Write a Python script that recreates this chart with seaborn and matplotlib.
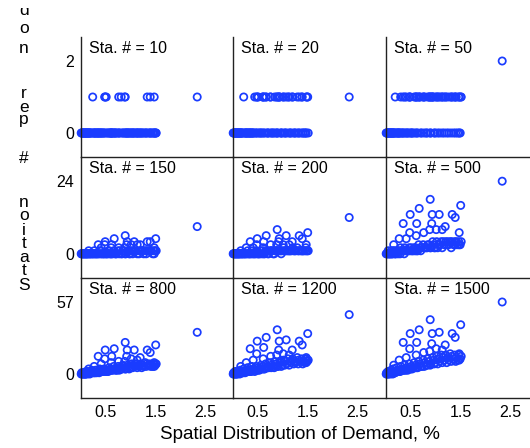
import matplotlib
matplotlib.use("Agg")
import matplotlib.pyplot as plt
import pandas as pd
import seaborn as sns
from matplotlib.transforms import Bbox

# ---------------- data ----------------
stations = [10, 20, 50, 150, 200, 500, 800, 1200, 1500]
row_max = [2, 24, 57]
x_ticks = [0.5, 1.5, 2.5]
x_tick_labels = ["0.5", "1.5", "2.5"]
x_label = "Spatial Distribution of Demand, %"
y_label = "Station # per node"

# nodes forming the dense band
band_x = [0.01, 0.02, 0.04, 0.05, 0.07, 0.09, 0.11, 0.12, 0.15, 0.17,
          0.19, 0.22, 0.24, 0.27, 0.30, 0.33, 0.35, 0.38, 0.42, 0.44,
          0.47, 0.51, 0.53, 0.57, 0.60, 0.62, 0.66, 0.69, 0.72, 0.75,
          0.78, 0.81, 0.84, 0.87, 0.90, 0.94, 0.96, 0.99, 1.02, 1.05,
          1.08, 1.11, 1.15, 1.17, 1.20, 1.24, 1.26, 1.29, 1.32, 1.36,
          1.38, 1.41, 1.44, 1.46, 1.49, 1.51]
band_y_10 = [0, 0, 0, 0, 0, 0, 0, 0, 0, 0, 0, 0, 1, 0, 0, 0, 0, 0, 0, 0,
             0, 1, 0, 0, 0, 0, 0, 0, 0, 0, 0, 1, 0, 0, 0, 0, 0, 0, 0, 0,
             0, 0, 0, 0, 0, 0, 0, 0, 0, 0, 0, 0, 0, 0, 0, 0]
band_y_20 = [0, 0, 0, 0, 0, 0, 0, 0, 0, 0, 0, 1, 0, 0, 0, 0, 0, 0, 0, 1,
             0, 1, 0, 0, 1, 0, 1, 0, 0, 1, 0, 0, 1, 0, 0, 1, 0, 0, 1, 0,
             0, 1, 0, 0, 1, 0, 0, 1, 0, 0, 1, 0, 0, 0, 1, 0]
band_y_50 = [0, 0, 0, 0, 0, 0, 0, 0, 0, 0, 1, 0, 0, 0, 1, 0, 0, 1, 0, 0,
             1, 0, 0, 1, 1, 0, 1, 1, 0, 1, 1, 0, 1, 1, 0, 1, 1, 0, 1, 1,
             0, 1, 1, 0, 1, 1, 0, 1, 1, 0, 1, 1, 0, 1, 0, 1]
band_y_150 = [0, 0, 0, 0, 0, 0, 0, 0, 0, 0, 0, 0, 0, 0, 0, 0, 0, 1, 0, 0,
              0, 0, 0, 1, 0, 0, 1, 0, 0, 1, 1, 0, 1, 1, 0, 1, 1, 0, 1, 1,
              1, 1, 1, 0, 1, 1, 0, 1, 1, 1, 1, 1, 0, 1, 1, 1]
band_y_200 = [0, 0, 0, 0, 0, 0, 0, 0, 0, 0, 0, 0, 0, 0, 1, 0, 0, 1, 0, 0,
              1, 0, 0, 1, 1, 0, 1, 1, 0, 1, 1, 0, 1, 1, 1, 1, 1, 1, 2, 1,
              1, 1, 1, 1, 2, 1, 1, 2, 1, 1, 1, 1, 1, 2, 1, 1]
band_y_500 = [0, 0, 0, 1, 0, 0, 1, 0, 1, 1, 0, 1, 1, 1, 2, 1, 1, 2, 1, 1,
              2, 2, 1, 2, 2, 1, 3, 2, 2, 3, 2, 2, 3, 3, 2, 4, 3, 2, 4, 3,
              3, 4, 4, 3, 4, 4, 3, 4, 4, 3, 4, 4, 3, 4, 3, 4]
band_y_800 = [0, 1, 0, 1, 1, 0, 2, 1, 2, 1, 1, 3, 2, 1, 3, 2, 2, 4, 3, 2,
              4, 3, 2, 5, 4, 3, 6, 4, 3, 6, 5, 4, 7, 6, 4, 7, 6, 5, 8, 7,
              6, 8, 7, 6, 8, 7, 6, 9, 8, 7, 8, 7, 6, 8, 7, 8]
band_y_1200 = [0, 1, 0, 2, 1, 0, 2, 1, 3, 2, 1, 4, 2, 2, 5, 3, 2, 6, 4, 2,
               6, 5, 3, 7, 6, 4, 8, 6, 5, 9, 7, 6, 10, 8, 6, 10, 9, 7, 11, 10,
               8, 12, 10, 9, 12, 10, 9, 13, 11, 10, 12, 10, 9, 12, 10, 11]
band_y_1500 = [0, 1, 0, 2, 1, 0, 3, 1, 4, 2, 1, 5, 3, 2, 6, 4, 3, 7, 5, 3,
               8, 6, 4, 9, 7, 5, 10, 8, 6, 11, 9, 7, 12, 10, 8, 13, 11, 9, 14, 12,
               10, 15, 13, 11, 15, 13, 11, 16, 14, 12, 15, 13, 11, 15, 12, 14]

# extra low-share nodes that thicken the lower edge of the band
low_x = [0.03, 0.06, 0.08, 0.10, 0.13, 0.14, 0.18, 0.21, 0.25, 0.29,
         0.32, 0.37, 0.40, 0.46, 0.50, 0.55, 0.59, 0.64, 0.70, 0.77,
         0.83, 0.89, 0.97, 1.04, 1.13, 1.22, 1.31, 1.40, 1.47]
low_y_10 = [0] * 29
low_y_20 = [0, 0, 0, 0, 0, 0, 0, 0, 0, 0, 0, 0, 0, 0, 0, 0, 0, 0, 0, 0,
            0, 0, 0, 0, 0, 0, 0, 0, 0]
low_y_50 = [0, 0, 0, 0, 0, 0, 0, 0, 0, 0, 0, 0, 0, 0, 0, 0, 0, 0, 0, 0,
            0, 0, 0, 0, 0, 0, 0, 0, 0]
low_y_150 = [0, 0, 0, 0, 0, 0, 0, 0, 0, 0, 0, 0, 0, 0, 0, 0, 0, 0, 0, 0,
             0, 0, 0, 0, 0, 1, 0, 1, 0]
low_y_200 = [0, 0, 0, 0, 0, 0, 0, 0, 0, 0, 0, 0, 0, 0, 0, 0, 0, 0, 0, 1,
             0, 1, 0, 1, 1, 1, 1, 1, 1]
low_y_500 = [0, 0, 0, 0, 0, 0, 0, 0, 0, 0, 1, 0, 1, 1, 1, 1, 1, 1, 1, 2,
             2, 2, 2, 2, 2, 3, 2, 3, 3]
low_y_800 = [0, 0, 0, 0, 0, 1, 0, 1, 1, 1, 1, 1, 2, 2, 2, 2, 3, 3, 3, 3,
             4, 4, 4, 5, 5, 5, 6, 6, 6]
low_y_1200 = [0, 0, 0, 1, 1, 0, 1, 1, 1, 2, 2, 2, 3, 3, 3, 4, 4, 4, 5, 5,
              5, 6, 6, 7, 7, 8, 8, 8, 9]
low_y_1500 = [0, 0, 1, 1, 1, 0, 1, 2, 2, 2, 3, 3, 3, 4, 4, 5, 5, 5, 6, 6,
              7, 7, 8, 8, 9, 9, 10, 10, 11]

# nodes standing above the band
peak_x = [0.89, 1.50, 0.67, 0.49, 0.93, 1.07, 1.33, 1.39, 0.35, 0.62, 0.92, 1.19,
          0.48, 0.88, 1.13, 1.47, 0.61, 0.27, 0.41, 0.76, 1.01, 0.16, 2.33]
peak_y_10 = [1, 0, 0, 1, 0, 0, 1, 1, 0, 0, 0, 0, 1, 1, 0, 1, 0, 0, 0, 1, 0, 0, 1]
peak_y_20 = [1, 1, 1, 1, 1, 1, 1, 1, 0, 1, 1, 1, 1, 1, 1, 1, 1, 0, 0, 1, 1, 0, 1]
peak_y_50 = [1, 1, 1, 1, 1, 1, 1, 1, 1, 1, 1, 1, 1, 1, 1, 1, 1, 0, 1, 1, 1, 0, 2]
peak_y_150 = [6, 5, 5, 4, 4, 4, 4, 4, 3, 3, 3, 3, 3, 2, 3, 2, 2, 1, 2, 2, 3, 1, 9]
peak_y_200 = [8, 7, 6, 5, 5, 6, 6, 5, 4, 4, 4, 4, 3, 3, 3, 3, 2, 2, 2, 3, 3, 1, 12]
peak_y_500 = [18, 16, 15, 13, 13, 13, 13, 12, 10, 10, 10, 9, 7, 8, 8, 7, 6, 5, 5, 7, 8, 3, 24]
peak_y_800 = [25, 23, 20, 19, 19, 19, 19, 17, 14, 14, 14, 13, 12, 10, 11, 9, 9, 6, 8, 10, 12, 4, 33]
peak_y_1200 = [35, 32, 29, 26, 26, 27, 26, 23, 20, 21, 19, 19, 16, 15, 15, 13, 12, 9, 11, 14, 16, 6, 47]
peak_y_1500 = [43, 39, 35, 32, 32, 33, 32, 29, 25, 25, 24, 23, 20, 18, 19, 16, 15, 11, 13, 17, 20, 7, 57]

band_by_sta = dict(zip(stations, [band_y_10, band_y_20, band_y_50, band_y_150, band_y_200,
                                  band_y_500, band_y_800, band_y_1200, band_y_1500]))
low_by_sta = dict(zip(stations, [low_y_10, low_y_20, low_y_50, low_y_150, low_y_200,
                                 low_y_500, low_y_800, low_y_1200, low_y_1500]))
peak_by_sta = dict(zip(stations, [peak_y_10, peak_y_20, peak_y_50, peak_y_150, peak_y_200,
                                  peak_y_500, peak_y_800, peak_y_1200, peak_y_1500]))

rows = []
for s in stations:
    for xs, ys in ((band_x, band_by_sta[s]), (low_x, low_by_sta[s]), (peak_x, peak_by_sta[s])):
        for xv, yv in zip(xs, ys):
            rows.append({"sta": s, "x": xv, "y": yv})
df = pd.DataFrame(rows)

# ---------------- style ----------------
sns.set_theme(style="white")
plt.rcParams["font.family"] = ["Liberation Sans", "DejaVu Sans"]
BLUE = "#1a3cff"
SPINE = "#222222"

W, H = 530, 448
fig = plt.figure(figsize=(W / 100, H / 100), dpi=100)
fig.patch.set_facecolor("white")

col_left = [80.7, 232.7, 385.7]
col_w = 152
row_top = [37, 157, 278]
row_h = [120, 121, 120]

for i, s in enumerate(stations):
    r, c = divmod(i, 3)
    l = col_left[c]
    t = row_top[r]
    h = row_h[r]
    ax = fig.add_axes([l / W, (H - t - h) / H, col_w / W, h / H])
    ax.set_facecolor("none")
    sub = df[df["sta"] == s]
    sns.scatterplot(data=sub, x="x", y="y", ax=ax, marker="o", s=27,
                    facecolors="none", edgecolor=BLUE, linewidth=1.25,
                    clip_on=False, legend=False)
    m = row_max[r]
    ax.set_xlim(0, 3.04)
    ax.set_ylim(-m / 3, 4 * m / 3)
    ax.set_xticks(x_ticks)
    ax.set_yticks([0, m])
    if r == 2:
        ax.set_xticklabels(x_tick_labels)
    else:
        ax.set_xticklabels([])
    if c == 0:
        ax.set_yticklabels([str(0), str(m)])
    else:
        ax.set_yticklabels([])
    ax.tick_params(direction="in", length=2.5, width=0.8, colors=SPINE,
                   labelcolor="black", labelsize=11.5, pad=5)
    ax.set_xlabel("")
    ax.set_ylabel("")
    for side in ["top", "right"]:
        ax.spines[side].set_visible(False)
    for side in ["left", "bottom"]:
        ax.spines[side].set_color(SPINE)
        ax.spines[side].set_linewidth(1.0)
    ax.text(0.057, 0.866, f"Sta. # = {s}", transform=ax.transAxes,
            fontsize=11.5, va="baseline", ha="left", color="black")

fig.text(300 / W, 1 - 434 / H, x_label, ha="center", va="center",
         fontsize=13.5, color="black")

# y label: characters stacked vertically, read bottom-up
chars_bottom_up = ["S", "t", "a", "t", "i", "o", "n", "#", "p", "e", "r", "n", "o", "d"]
baselines_px = [290, 275, 262, 248, 235, 220, 207, 163, 124, 112, 98, 53, 33, 15]
clip = Bbox.from_extents(0, 0, W, H - 8)
for ch, yb in zip(chars_bottom_up, baselines_px):
    txt = fig.text(24 / W, 1 - yb / H, ch, ha="center", va="baseline",
                   fontsize=12.5, color="black")
    if ch == "d":
        txt.set_clip_box(clip)
        txt.set_clip_on(True)

fig.savefig("out.png", dpi=100, facecolor="white")
